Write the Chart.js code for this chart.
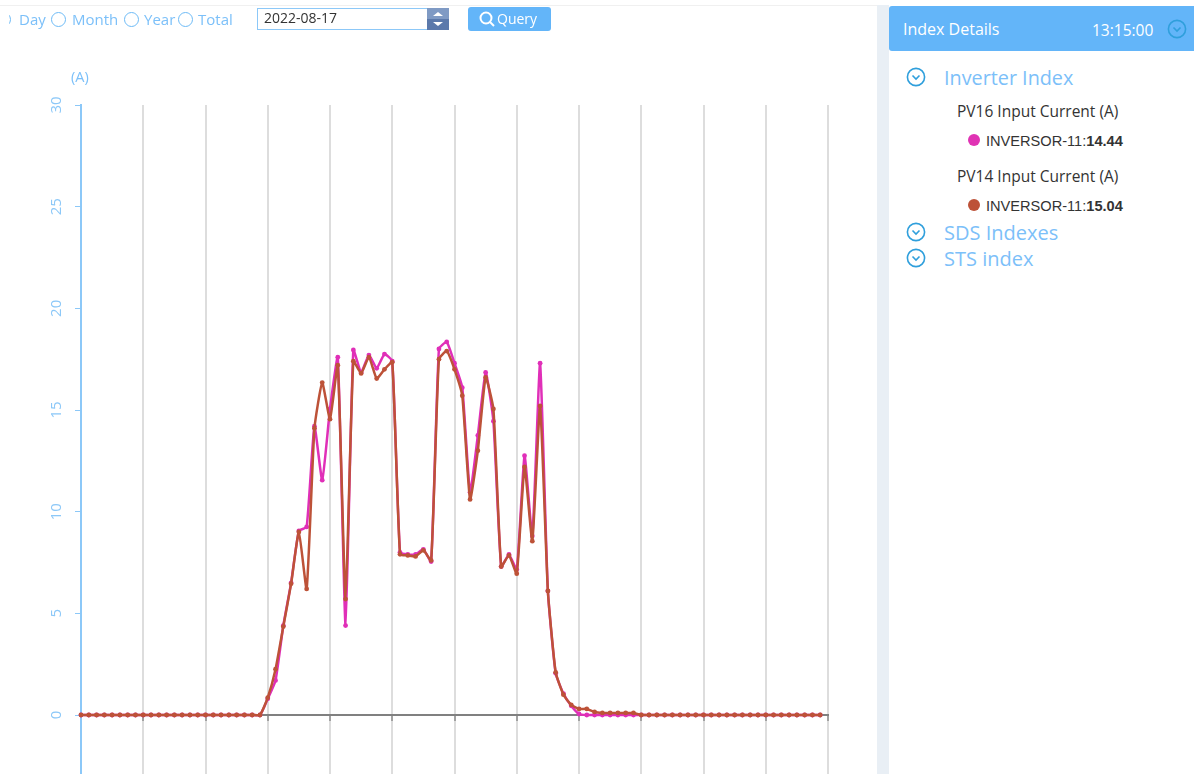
<!DOCTYPE html>
<html>
<head>
<meta charset="utf-8">
<title>Inverter current</title>
<script src="https://cdn.jsdelivr.net/npm/chart.js@4"></script>
<style>
  html, body { margin: 0; padding: 0; width: 1194px; height: 774px; overflow: hidden; background: #fff; }
  body { position: relative; font-family: "Open Sans", "Noto Sans", sans-serif; }
  .abs { position: absolute; white-space: nowrap; }
  #chart { position: absolute; left: 0; top: 0; }
  .blue { color: #7cc0f9; }
  .radio { position: absolute; width: 13px; height: 13px; top: 12px; border: 1.5px solid #6dbaf5; border-radius: 50%; box-sizing: content-box; }
  .topline { position: absolute; left: 0; top: 5px; width: 889px; height: 1px; background: #f0f0f0; }
  .band { position: absolute; left: 877px; top: 5px; width: 12px; height: 769px; background: #e9eff5; }
  .header { position: absolute; left: 889px; top: 6px; width: 305px; height: 45px; background: #63b5f9; border-radius: 3px 0 0 3px; }
  .dot { position: absolute; width: 12px; height: 12px; border-radius: 50%; }
  .input { position: absolute; left: 257px; top: 8px; width: 170px; height: 20px; border: 1px solid #8cc8f8; border-right: 0; background: #fff; }
  .button { position: absolute; left: 468px; top: 7px; width: 83px; height: 24px; background: #63b5f9; border-radius: 3px; }
</style>
</head>
<body>
<canvas id="chart" width="870" height="780"></canvas>

<div class="topline"></div>

<!-- barre de filtres -->
<div class="radio" style="left:-4px"></div>
<div class="abs" style="left:0;top:8px;width:9px;height:24px;background:#fff"></div>
<div class="abs blue" style="left:19px;top:9px;font-size:15px">Day</div>
<div class="radio" style="left:51px"></div>
<div class="abs blue" style="left:72px;top:9px;font-size:15px">Month</div>
<div class="radio" style="left:124px"></div>
<div class="abs blue" style="left:144px;top:9px;font-size:15px">Year</div>
<div class="radio" style="left:178px"></div>
<div class="abs blue" style="left:198px;top:9px;font-size:15px">Total</div>
<div class="input"></div>
<div class="abs" style="left:264px;top:8px;font-size:14px;color:#333">2022-08-17</div>
<svg class="abs" style="left:427px;top:8px" width="22" height="22">
  <rect width="22" height="11" fill="#7f9ac4"/>
  <rect y="11" width="22" height="11" fill="#5b79ab"/>
  <path d="M11 4l5 4H6z M11 18l5-4H6z" fill="#fff"/>
</svg>
<div class="button"></div>
<svg class="abs" style="left:478px;top:10px" width="18" height="18">
  <circle cx="8" cy="8" r="5.5" fill="none" stroke="#fff" stroke-width="2"/>
  <path d="M12 12l4 4" stroke="#fff" stroke-width="2"/>
</svg>
<div class="abs" style="left:497px;top:9px;font-size:14px;color:#fff">Query</div>

<div class="abs blue" style="left:71px;top:67px;font-size:14.5px">(A)</div>

<!-- panneau de droite -->
<div class="band"></div>
<div class="header"></div>
<div class="abs" style="left:903px;top:18px;font-size:16px;color:#fff">Index Details</div>
<div class="abs" style="left:1092px;top:19px;font-size:15.5px;color:#fff">13:15:00</div>
<svg class="abs" style="left:1167px;top:19px" width="20" height="20"><use href="#chev"/></svg>

<svg width="0" height="0" style="position:absolute">
  <symbol id="chev" viewBox="0 0 20 20">
    <circle cx="10" cy="10" r="8.6" fill="none" stroke="#2f9fdc" stroke-width="1.6"/>
    <path d="M6.5 8.5l3.5 3.5 3.5-3.5" fill="none" stroke="#2f9fdc" stroke-width="1.6"/>
  </symbol>
</svg>

<svg class="abs" style="left:906px;top:67px" width="20" height="20"><use href="#chev"/></svg>
<div class="abs blue" style="left:944px;top:64px;font-size:19.8px">Inverter Index</div>
<div class="abs" style="left:957px;top:100px;font-size:15.5px;color:#333">PV16 Input Current (A)</div>
<div class="dot" style="left:968px;top:134px;background:#e033b4"></div>
<div class="abs" style="left:986px;top:133px;font-size:14.6px;color:#333;font-family:'Liberation Sans'">INVERSOR-11:<b>14.44</b></div>
<div class="abs" style="left:957px;top:165px;font-size:15.5px;color:#333">PV14 Input Current (A)</div>
<div class="dot" style="left:968px;top:199px;background:#bd5238"></div>
<div class="abs" style="left:986px;top:198px;font-size:14.6px;color:#333;font-family:'Liberation Sans'">INVERSOR-11:<b>15.04</b></div>
<svg class="abs" style="left:906px;top:222px" width="20" height="20"><use href="#chev"/></svg>
<div class="abs blue" style="left:944px;top:219px;font-size:20px">SDS Indexes</div>
<svg class="abs" style="left:906px;top:248px" width="20" height="20"><use href="#chev"/></svg>
<div class="abs blue" style="left:944px;top:245px;font-size:20px">STS index</div>

<script>
// --- Données ---
const timeLabels = [
  '00:00','00:15','00:30','00:45','01:00','01:15','01:30','01:45',
  '02:00','02:15','02:30','02:45','03:00','03:15','03:30','03:45',
  '04:00','04:15','04:30','04:45','05:00','05:15','05:30','05:45',
  '06:00','06:15','06:30','06:45','07:00','07:15','07:30','07:45',
  '08:00','08:15','08:30','08:45','09:00','09:15','09:30','09:45',
  '10:00','10:15','10:30','10:45','11:00','11:15','11:30','11:45',
  '12:00','12:15','12:30','12:45','13:00','13:15','13:30','13:45',
  '14:00','14:15','14:30','14:45','15:00','15:15','15:30','15:45',
  '16:00','16:15','16:30','16:45','17:00','17:15','17:30','17:45',
  '18:00','18:15','18:30','18:45','19:00','19:15','19:30','19:45',
  '20:00','20:15','20:30','20:45','21:00','21:15','21:30','21:45',
  '22:00','22:15','22:30','22:45','23:00','23:15','23:30','23:45',
  '24:00'
];

const pv16Values = [
  0,0,0,0,0,0,0,0,
  0,0,0,0,0,0,0,0,
  0,0,0,0,0,0,0,0,
  0.8,1.7,4.4,6.5,9.05,9.25,14.2,11.55,
  15.05,17.6,4.4,17.95,16.85,17.7,17.05,17.75,
  17.4,8.0,7.9,7.9,8.15,7.55,18.0,18.35,
  17.3,16.1,10.95,13.75,16.85,14.45,7.3,7.9,
  7.15,12.75,8.8,17.3,6.1,2.05,1.05,0.45,
  0.05,0,0,0,0,0,0,0,
  0,0,0,0,0,0,0,0,
  0,0,0,0,0,0,0,0,
  0,0,0,0,0,0,0,0
];

const pv14Values = [
  0,0,0,0,0,0,0,0,
  0,0,0,0,0,0,0,0,
  0,0,0,0,0,0,0,0,
  0.85,2.25,4.35,6.45,9.0,6.2,14.1,16.35,
  14.55,17.2,5.7,17.4,16.8,17.6,16.55,17.0,
  17.35,7.9,7.85,7.8,8.1,7.6,17.5,17.9,
  17.0,15.7,10.6,13.0,16.6,15.05,7.3,7.85,
  6.95,12.2,8.55,15.2,6.1,2.1,1.0,0.5,
  0.3,0.3,0.15,0.1,0.1,0.1,0.1,0.1,
  0,0,0,0,0,0,0,0,
  0,0,0,0,0,0,0,0,
  0,0,0,0,0,0,0,0
];

const yTickValues = [0, 5, 10, 15, 20, 25, 30];
const xTickEvery = 8; // une graduation toutes les 2 h

const pv16Color = '#e02fb8';
const pv14Color = '#bd5238';
const axisBlue = '#8cc8f8';

new Chart(document.getElementById('chart'), {
  type: 'line',
  data: {
    labels: timeLabels,
    datasets: [
      {
        label: 'PV16 Input Current (A)',
        data: pv16Values,
        order: 2,
        borderColor: pv16Color,
        backgroundColor: pv16Color,
        borderWidth: 2.5,
        pointRadius: 2.4,
        pointBorderWidth: 0,
        tension: 0.15
      },
      {
        label: 'PV14 Input Current (A)',
        data: pv14Values,
        order: 1,
        borderColor: pv14Color,
        backgroundColor: pv14Color,
        borderWidth: 2.5,
        pointRadius: 2.4,
        pointBorderWidth: 0,
        tension: 0.15
      }
    ]
  },
  options: {
    responsive: false,
    animation: false,
    layout: { padding: { top: 105, right: 42, bottom: 3, left: 0 } },
    plugins: { legend: { display: false }, title: { display: false }, tooltip: { enabled: false } },
    scales: {
      x: {
        type: 'category',
        position: { y: 0 },
        afterBuildTicks: scale => {
          scale.ticks = scale.ticks.filter((t, i) => i % xTickEvery === 0);
        },
        afterFit: scale => { scale.height = 0; },
        ticks: { display: false, autoSkip: false },
        grid: {
          color: ctx => (ctx.index === 0 ? 'rgba(0,0,0,0)' : '#dddddd'),
          lineWidth: 2,
          tickColor: '#666',
          tickLength: 5,
          tickWidth: 1
        },
        border: { color: '#808080', width: 2 }
      },
      y: {
        position: 'left',
        min: -3,
        max: 30,
        afterBuildTicks: scale => {
          scale.ticks = yTickValues.map(v => ({ value: v }));
        },
        afterFit: scale => {
          scale.width = 81;
          scale.paddingTop = 0;
          scale.paddingBottom = 0;
        },
        ticks: {
          color: axisBlue,
          font: { family: '"Open Sans"', size: 15 },
          minRotation: 90,
          maxRotation: 90,
          crossAlign: 'center',
          padding: 10
        },
        grid: { drawOnChartArea: false, tickColor: axisBlue, tickLength: 6 },
        border: { color: axisBlue, width: 2 }
      }
    }
  }
});
</script>
</body>
</html>
